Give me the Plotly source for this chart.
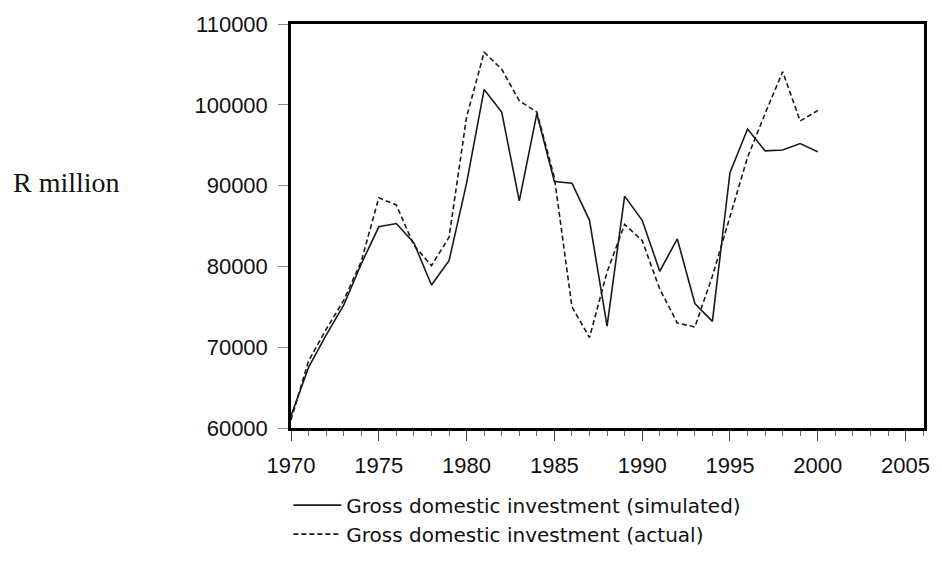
import plotly.graph_objects as go

years = list(range(1970, 2001))
simulated = [61500, 67500, 71500, 75200, 80300, 84900, 85300, 82900, 77700, 80700,
             90300, 101900, 99100, 88100, 98900, 90500, 90300, 85700, 72600, 88700,
             85700, 79400, 83400, 75400, 73200, 91600, 97000, 94300, 94400, 95200, 94200]
actual = [61000, 68300, 72200, 75800, 80600, 88500, 87600, 82600, 80100, 83600,
          98500, 106500, 104400, 100500, 99100, 91000, 75000, 71200, 79300, 85200,
          83200, 77200, 73000, 72500, 78800, 86200, 93500, 98900, 104100, 98000, 99300]
x_ticks = [1970, 1975, 1980, 1985, 1990, 1995, 2000, 2005]
y_ticks = [60000, 70000, 80000, 90000, 100000, 110000]

font_sans = "Liberation Sans, Arial, sans-serif"
font_legend = "DejaVu Sans, Liberation Sans, sans-serif"
font_serif = "Liberation Serif, Times New Roman, serif"

fig = go.Figure()
fig.add_trace(go.Scatter(x=years, y=simulated, mode="lines",
                         name="Gross domestic investment (simulated)",
                         line=dict(color="#1a1a1a", width=1.6)))
fig.add_trace(go.Scatter(x=years, y=actual, mode="lines",
                         name="Gross domestic investment (actual)",
                         line=dict(color="#1a1a1a", width=1.6, dash="5px,3px")))

fig.update_layout(
    width=942, height=565,
    margin=dict(l=291, r=13, t=18, b=128),
    paper_bgcolor="white", plot_bgcolor="white",
    font=dict(family=font_sans, size=22, color="#111"),
    showlegend=True,
    legend=dict(x=-0.0042, y=-0.1426, xanchor="left", yanchor="top",
                font=dict(family=font_legend, size=20, color="#111"),
                bgcolor="rgba(0,0,0,0)", itemwidth=48, borderwidth=0),
    xaxis=dict(range=[1970, 2006.05], tickmode="array", tickvals=x_ticks,
               ticks="outside", ticklen=10, tickwidth=1, tickcolor="#444",
               ticklabelstandoff=6,
               showgrid=False, zeroline=False,
               showline=True, linewidth=2.5, linecolor="black", mirror=True,
               minor=dict(tickvals=list(range(1970, 2007)), ticks="outside",
                          ticklen=5, tickwidth=1, tickcolor="#666"),
               tickfont=dict(family=font_sans, size=22)),
    yaxis=dict(range=[60000, 110000], tickmode="array", tickvals=y_ticks,
               ticktext=[str(v) for v in y_ticks],
               ticks="outside", ticklen=10, tickwidth=1, tickcolor="#888",
               ticklabelstandoff=6,
               showgrid=False, zeroline=False,
               showline=True, linewidth=2.5, linecolor="black", mirror=True,
               tickfont=dict(family=font_sans, size=22)),
    annotations=[dict(text="R million", xref="paper", yref="paper",
                      x=-0.443, y=0.6074, xanchor="left", yanchor="middle",
                      showarrow=False,
                      font=dict(family=font_serif, size=28, color="#111"))],
)

fig.write_html("out.html", config={"displayModeBar": False},
               post_script="document.body.style.margin='0';document.body.style.overflow='hidden';")
